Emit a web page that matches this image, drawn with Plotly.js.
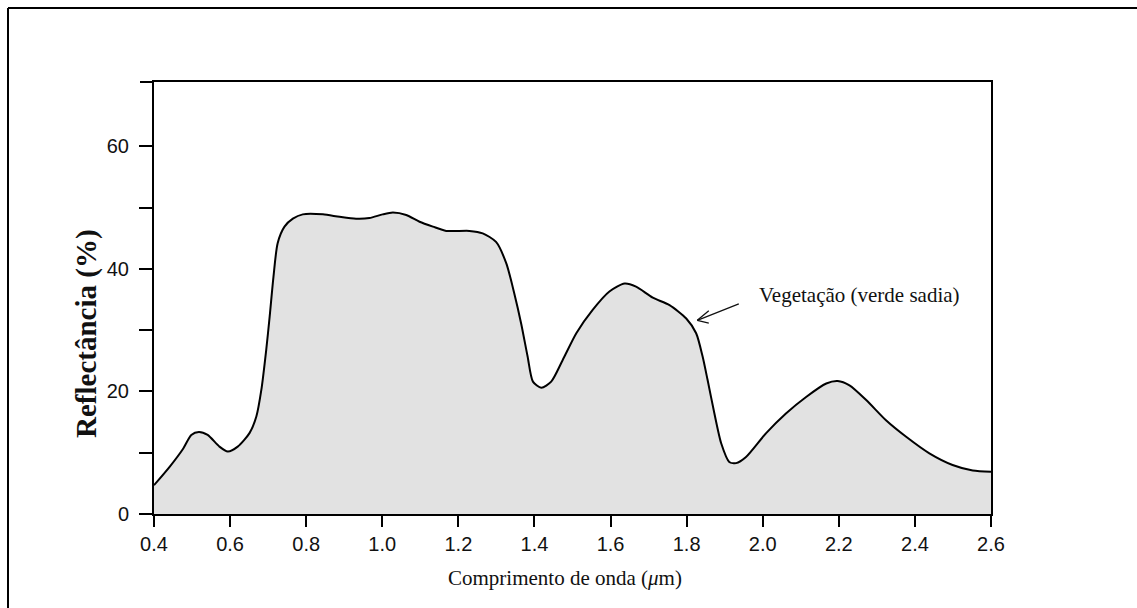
<!DOCTYPE html>
<html>
<head>
<meta charset="utf-8">
<script src="https://cdn.plot.ly/plotly-3.0.1.min.js"></script>
<style>html,body{margin:0;padding:0;background:#fff;}#chart{width:1137px;height:608px;}</style>
</head>
<body>
<div id="chart"></div>
<script>
// Wavelength (µm)
const wavelength = [0.400,0.441,0.477,0.498,0.518,0.541,0.572,0.594,0.620,0.651,0.669,0.682,0.695,0.704,0.714,0.725,0.743,0.765,0.791,0.844,0.888,0.931,0.966,1.001,1.028,1.063,1.098,1.133,1.168,1.229,1.264,1.299,1.326,1.347,1.365,1.382,1.396,1.418,1.444,1.474,1.510,1.553,1.597,1.637,1.667,1.711,1.755,1.799,1.825,1.842,1.855,1.873,1.891,1.912,1.930,1.956,2.009,2.061,2.114,2.167,2.197,2.228,2.272,2.324,2.377,2.438,2.499,2.552,2.600];
// Reflectance (%)
const reflectance = [4.7,7.7,10.7,12.9,13.4,12.9,11.0,10.2,11.0,13.2,15.9,20.2,26.8,32.2,38.7,44.2,46.9,48.2,48.9,48.9,48.5,48.2,48.3,48.9,49.2,48.8,47.7,46.9,46.2,46.2,45.8,44.4,40.9,36.0,31.1,25.7,21.6,20.6,21.6,25.1,29.5,33.3,36.3,37.6,37.1,35.3,34.1,31.9,29.5,25.7,21.9,16.4,11.5,8.5,8.3,9.3,13.2,16.4,19.1,21.3,21.7,21.0,18.6,15.3,12.6,9.9,8.0,7.1,6.9];

const xTickVals = [0.4,0.6,0.8,1.0,1.2,1.4,1.6,1.8,2.0,2.2,2.4,2.6];
const xTickText = ["0.4","0.6","0.8","1.0","1.2","1.4","1.6","1.8","2.0","2.2","2.4","2.6"];
const yTickVals = [0,10,20,30,40,50,60];
const yTickText = ["0","","20","","40","","60"];

const xTitle = "Comprimento de onda (<i>μ</i>m)";
const yTitle = "<b>Reflectância (%)</b>";
const curveLabel = "Vegetação (verde sadia)";
const labelPoint = {x: 1.986, y: 35.7};
const arrowPoint = {x: 1.828, y: 31.6};

const trace = {
  x: wavelength, y: reflectance, type: 'scatter', mode: 'lines',
  line: {color: '#000', width: 2, shape: 'spline', smoothing: 0.7},
  fill: 'tozeroy', fillcolor: '#e2e2e2', hoverinfo: 'skip', showlegend: false
};

const W = 837, H = 432; // plot area px
const px = v => v / W, py = v => v / H;

const tickFont = {family: 'Liberation Sans, Arial, sans-serif', size: 20, color: '#111'};

const layout = {
  width: 1137, height: 608,
  margin: {l: 154, r: 146, t: 82, b: 94, pad: 0},
  paper_bgcolor: '#fff', plot_bgcolor: '#fff',
  showlegend: false,
  xaxis: {
    range: [0.4, 2.6], tickvals: xTickVals, ticktext: xTickText,
    ticks: 'outside', ticklen: 11, tickwidth: 2, tickcolor: '#000',
    showline: true, linecolor: '#000', linewidth: 2, mirror: true,
    showgrid: false, zeroline: false, tickfont: tickFont, fixedrange: true
  },
  yaxis: {
    range: [0, 70.5], tickvals: yTickVals, ticktext: yTickText,
    ticks: 'outside', ticklen: 13, tickwidth: 2, tickcolor: '#000',
    showline: true, linecolor: '#000', linewidth: 2, mirror: true,
    showgrid: false, zeroline: false, tickfont: tickFont, fixedrange: true,
    ticklabelstandoff: 6
  },
  annotations: [
    {xref: 'paper', yref: 'paper', x: px(565 - 154), y: py(514 - 578), text: xTitle,
     showarrow: false, xanchor: 'center', yanchor: 'middle',
     font: {family: 'Liberation Serif, Times New Roman, serif', size: 21, color: '#111'}},
    {xref: 'paper', yref: 'paper', x: px(86 - 154), y: py(514 - 334), text: yTitle, textangle: -90,
     showarrow: false, xanchor: 'center', yanchor: 'middle',
     font: {family: 'Liberation Serif, Times New Roman, serif', size: 29, color: '#111'}},
    {x: labelPoint.x, y: labelPoint.y, text: curveLabel, showarrow: false,
     xanchor: 'left', yanchor: 'middle',
     font: {family: 'Liberation Serif, Times New Roman, serif', size: 21, color: '#111'}},
    {x: arrowPoint.x, y: arrowPoint.y, text: '', showarrow: true, arrowhead: 0, arrowwidth: 1.3,
     arrowcolor: '#111', ax: 43, ay: -17, standoff: 0},
    {x: arrowPoint.x, y: arrowPoint.y, text: '', showarrow: true, arrowhead: 0, arrowwidth: 1.3,
     arrowcolor: '#111', ax: 13, ay: -11, standoff: 0},
    {x: arrowPoint.x, y: arrowPoint.y, text: '', showarrow: true, arrowhead: 0, arrowwidth: 1.3,
     arrowcolor: '#111', ax: 13, ay: 3, standoff: 0}
  ],
  shapes: [
    {type: 'line', xref: 'paper', yref: 'paper', x0: px(140 - 154), x1: 0, y0: 1, y1: 1,
     line: {color: '#000', width: 2}},
    {type: 'line', xref: 'paper', yref: 'paper', x0: px(8 - 154), x1: px(1145 - 154),
     y0: py(514 - 8), y1: py(514 - 8), line: {color: '#000', width: 2}},
    {type: 'line', xref: 'paper', yref: 'paper', x0: px(8 - 154), x1: px(8 - 154),
     y0: py(514 - 8), y1: py(514 - 620), line: {color: '#000', width: 2}}
  ]
};

Plotly.newPlot('chart', [trace], layout, {staticPlot: true, displayModeBar: false});
</script>
</body>
</html>
